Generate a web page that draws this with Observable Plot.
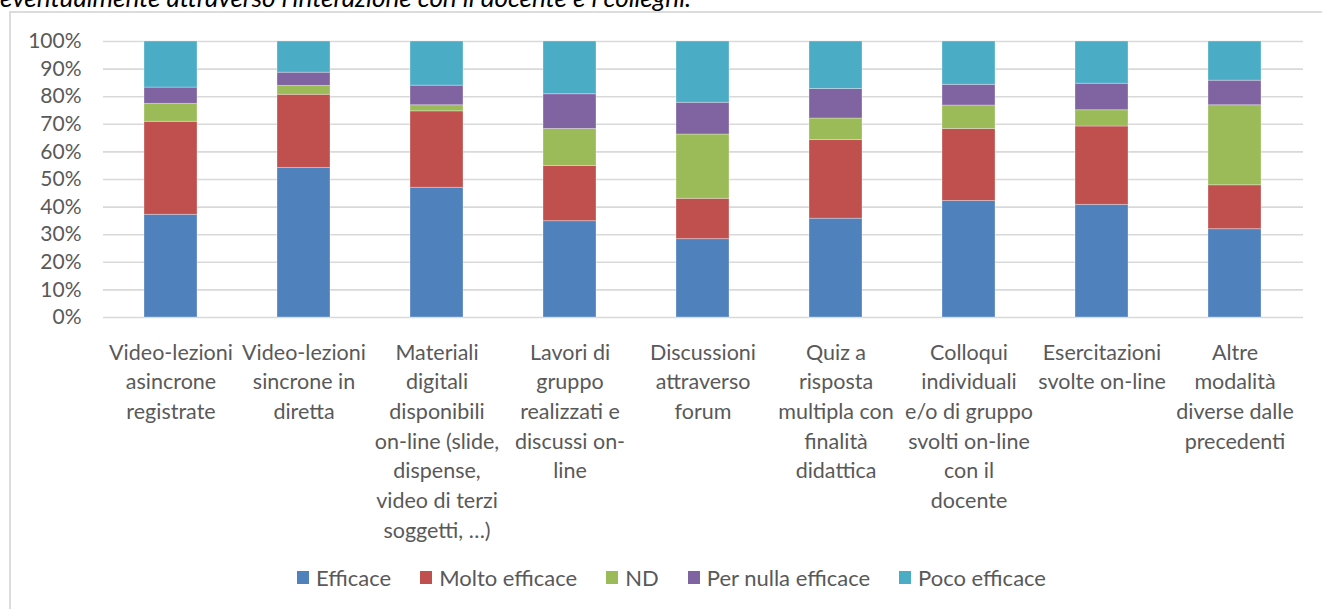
<!DOCTYPE html>
<html><head><meta charset="utf-8">
<script src="https://cdn.jsdelivr.net/npm/d3@7"></script>
<script src="https://cdn.jsdelivr.net/npm/@observablehq/plot@0.6"></script>
<style>
html,body{margin:0;padding:0;background:#fff;width:1322px;height:609px;overflow:hidden;font-family:Lato,sans-serif;}
#title{position:absolute;left:0;top:-16px;font-size:26px;line-height:26px;font-style:italic;color:#000;white-space:nowrap;}
#frame{position:absolute;left:9px;top:11px;width:1400px;height:700px;border:2px solid #dcdcdc;box-sizing:border-box;}
#chart{position:absolute;left:0;top:0;}
#legend{position:absolute;top:564px;left:297px;display:flex;gap:29px;font-size:22px;color:#595959;white-space:nowrap;}
#legend .it{display:flex;align-items:center;gap:7px;}
#legend .sw{width:12px;height:13px;display:inline-block;}
</style>
</head><body>
<div id="title">eventualmente attraverso l'interazione con il docente e i colleghi.</div>
<div id="frame"></div>
<div id="chart"></div>
<div id="legend"></div>
<script>
const categories = ["c1","c2","c3","c4","c5","c6","c7","c8","c9"];
const xLabels = [
  "Video-lezioni\nasincrone\nregistrate",
  "Video-lezioni\nsincrone in\ndiretta",
  "Materiali\ndigitali\ndisponibili\non-line (slide,\ndispense,\nvideo di terzi\nsoggetti, …)",
  "Lavori di\ngruppo\nrealizzati e\ndiscussi on-\nline",
  "Discussioni\nattraverso\nforum",
  "Quiz a\nrisposta\nmultipla con\nfinalità\ndidattica",
  "Colloqui\nindividuali\ne/o di gruppo\nsvolti on-line\ncon il\ndocente",
  "Esercitazioni\nsvolte on-line",
  "Altre\nmodalità\ndiverse dalle\nprecedenti"
];
const seriesNames = ["Efficace","Molto efficace","ND","Per nulla efficace","Poco efficace"];
const seriesColors = ["#4F81BD","#C0504D","#9BBB59","#8064A2","#4BACC6"];
const efficace      = [37.2, 54.2, 47.0, 34.9, 28.4, 35.8, 42.2, 40.8, 32.0];
const moltoEfficace = [33.7, 26.5, 27.7, 20.0, 14.6, 28.5, 26.1, 28.4, 15.9];
const nd            = [ 6.5,  3.2,  2.2, 13.4, 23.3,  7.8,  8.5,  5.9, 29.0];
const perNulla      = [ 5.9,  4.8,  7.1, 12.6, 11.5, 10.7,  7.5,  9.6,  8.9];
const pocoEfficace  = [16.7, 11.3, 16.0, 19.1, 22.2, 17.2, 15.7, 15.3, 14.2];
const yTicks = [0,10,20,30,40,50,60,70,80,90,100];

const seriesValues = [efficace, moltoEfficace, nd, perNulla, pocoEfficace];
const rows = [];
seriesValues.forEach((vals, si) => vals.forEach((v, ci) => rows.push({cat: categories[ci], series: seriesNames[si], value: v})));

const chart = Plot.plot({
  width: 1322,
  height: 545,
  marginLeft: 103,
  marginRight: 19,
  marginTop: 41,
  marginBottom: 228,
  style: {fontFamily: "Lato, sans-serif", fontSize: "21px", background: "none", overflow: "visible"},
  x: {type: "band", domain: categories, paddingInner: 0.6, paddingOuter: 0.3, axis: null},
  y: {domain: [0, 100], axis: null},
  color: {domain: seriesNames, range: seriesColors},
  marks: [
    Plot.gridY(yTicks, {stroke: "#d9d9d9", strokeOpacity: 1, strokeWidth: 1.6}),
    Plot.barY(rows, {x: "cat", y: "value", fill: "series", order: seriesNames, stroke: "#ffffff", strokeOpacity: 0.3, strokeWidth: 1}),
    Plot.axisY(yTicks, {tickSize: 0, tickPadding: 22, tickFormat: d => d + "%", fill: "#595959", fontSize: 21, label: null}),
    Plot.text(categories, {x: d => d, text: (d, i) => xLabels[i], frameAnchor: "bottom", lineAnchor: "top", dy: 21, lineHeight: 1.38, fontSize: 21.5, fill: "#595959"})
  ]
});
document.getElementById("chart").appendChild(chart);

const lg = document.getElementById("legend");
seriesNames.forEach((n, i) => {
  const it = document.createElement("span"); it.className = "it";
  const sw = document.createElement("span"); sw.className = "sw"; sw.style.background = seriesColors[i];
  const tx = document.createElement("span"); tx.textContent = n;
  it.appendChild(sw); it.appendChild(tx); lg.appendChild(it);
});
</script>
</body></html>
